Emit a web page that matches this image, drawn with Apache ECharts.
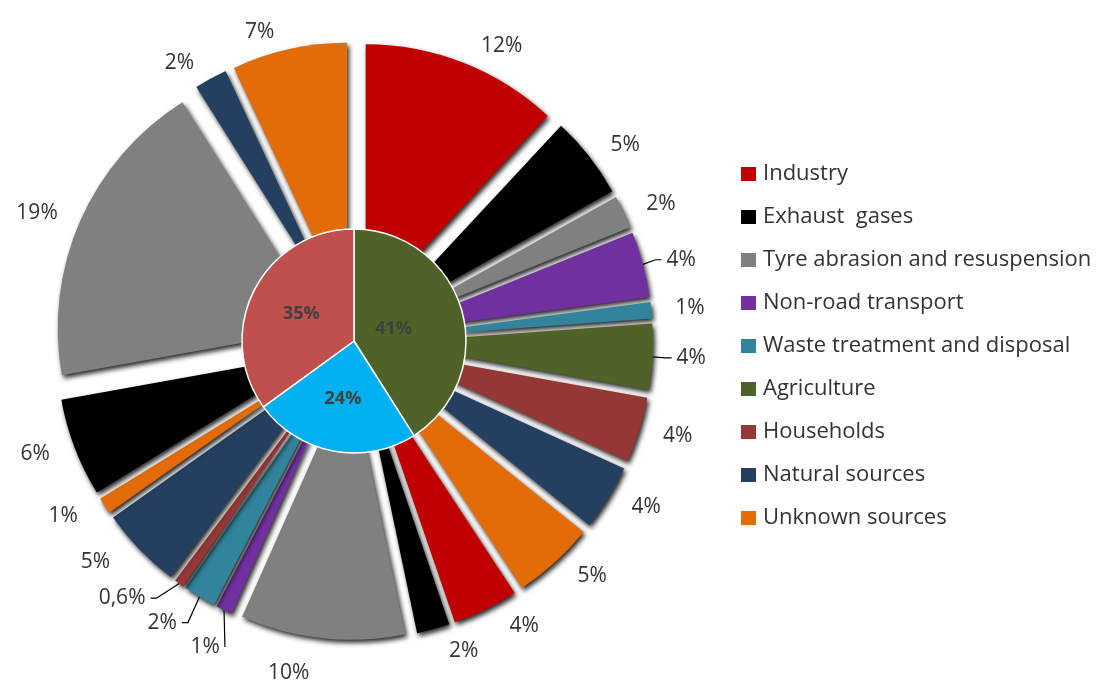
<!DOCTYPE html>
<html>
<head>
<meta charset="utf-8">
<title>Emission sources</title>
<script src="https://cdn.jsdelivr.net/npm/echarts@6/dist/echarts.min.js"></script>
<style>
  html, body { margin: 0; padding: 0; background: #ffffff; }
  #chart { width: 1101px; height: 685px; }
</style>
</head>
<body>
<div id="chart"></div>
<script>
// Source categories (legend order)
const sourceNames = [
  'Industry',
  'Exhaust  gases',
  'Tyre abrasion and resuspension',
  'Non-road transport',
  'Waste treatment and disposal',
  'Agriculture',
  'Households',
  'Natural sources',
  'Unknown sources'
];

// Inner pie: share of each group (%)
const groupNames = ['Group A', 'Group B', 'Group C'];
const groupShares = [41, 24, 35];

// Outer ring: share of each source inside each group (%), null = not present
const groupAShares = [12, 5, 2, 4, 1, 4, 4, 4, 5];
const groupBShares = [4, 2, 10, 1, 2, null, 0.6, 5, 1];
const groupCShares = [null, 6, 19, null, null, null, null, 2, 7];

const sourceColors = ['#C00000', '#000000', '#808080', '#7030A0', '#31849B',
                      '#4F6228', '#953735', '#243F60', '#E36C09'];
const groupColors = ['#4F6228', '#00B0F0', '#C0504D'];

// slices whose label is tied to the slice by a leader line: [group, source]
const leaderLines = [[0, 3], [0, 5], [1, 6], [1, 4], [1, 3]];

const outerData = [];
[groupAShares, groupBShares, groupCShares].forEach(function (shares, g) {
  shares.forEach(function (v, i) {
    if (v === null) return;
    const withLine = leaderLines.some(function (p) { return p[0] === g && p[1] === i; });
    outerData.push({
      name: sourceNames[i],
      value: v,
      selected: true,
      itemStyle: { color: sourceColors[i] },
      labelLine: { show: withLine }
    });
  });
});

const innerData = groupShares.map(function (v, i) {
  const item = { name: groupNames[i], value: v, itemStyle: { color: groupColors[i] } };
  // the widest group carries its label a little nearer the centre
  if (i === 0) item.label = { offset: [-17, 4] };
  return item;
});

const fmt = function (p) { return String(p.value).replace('.', ',') + '%'; };

const chart = echarts.init(document.getElementById('chart'), null, { renderer: 'canvas' });
chart.setOption({
  animation: false,
  backgroundColor: '#ffffff',
  legend: {
    orient: 'vertical',
    left: 741,
    top: 163,
    padding: 0,
    icon: 'rect',
    itemWidth: 15,
    itemHeight: 14,
    itemGap: 21,
    selectedMode: false,
    data: sourceNames,
    textStyle: {
      fontFamily: 'Open Sans',
      fontSize: 22,
      color: '#333333',
      padding: [0, 0, 0, 2]
    }
  },
  series: [
    {
      type: 'pie',
      name: 'Sources',
      center: [354, 341],
      radius: [0, 267],
      startAngle: 90,
      clockwise: true,
      selectedMode: 'multiple',
      selectedOffset: 32,
      avoidLabelOverlap: true,
      silent: true,
      itemStyle: {
        shadowBlur: 5,
        shadowColor: 'rgba(0,0,0,0.85)',
        shadowOffsetX: 2,
        shadowOffsetY: 3
      },
      label: {
        show: true,
        position: 'outside',
        formatter: fmt,
        fontFamily: 'Open Sans',
        fontSize: 21,
        color: '#333333'
      },
      labelLine: {
        length: 18,
        length2: 6,
        lineStyle: { color: '#000000', width: 1.2 }
      },
      emphasis: { disabled: true },
      data: outerData
    },
    {
      type: 'pie',
      name: 'Groups',
      center: [354, 341],
      radius: [0, 112],
      startAngle: 90,
      clockwise: true,
      silent: true,
      itemStyle: { borderColor: '#ffffff', borderWidth: 1.5 },
      label: {
        show: true,
        position: 'inside',
        formatter: '{c}%',
        fontFamily: 'Open Sans',
        fontSize: 18,
        fontWeight: 'bold',
        color: '#404040'
      },
      labelLine: { show: false },
      emphasis: { disabled: true },
      data: innerData
    }
  ]
});
</script>
</body>
</html>
